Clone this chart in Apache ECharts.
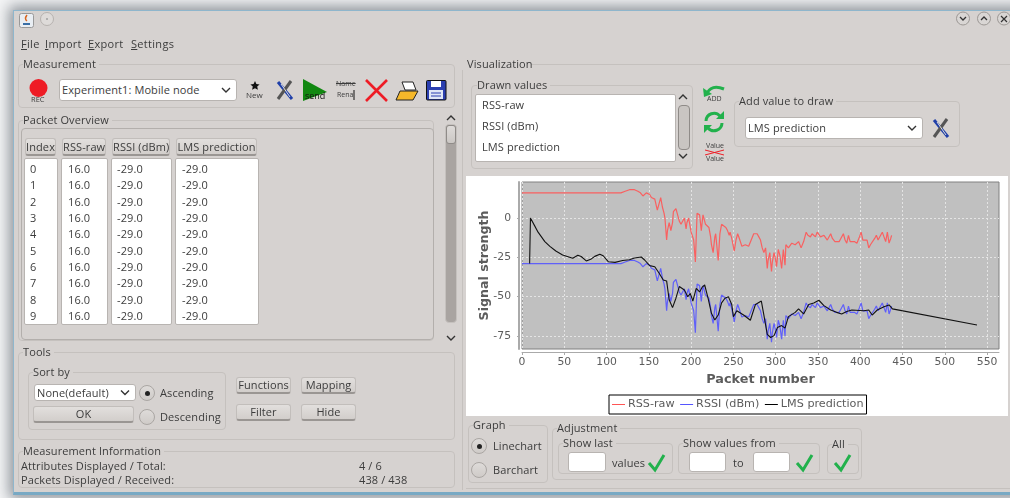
<!DOCTYPE html>
<html><head><meta charset="utf-8">
<style>
html,body{margin:0;padding:0;width:1010px;height:498px;overflow:hidden;background:#f4f5f6;font-family:"Open Sans","Noto Sans",sans-serif;font-size:11px;color:#3c3c3c}
#win{position:absolute;left:13px;top:10px;width:1100px;height:485px;background:#d6d2d0;border:1px solid #8fb6cc;border-bottom:3px solid #78a9c4;box-shadow:0 0 13px 4px rgba(60,70,80,.55);box-sizing:border-box}
#ui{position:absolute;left:0;top:0;width:1010px;height:498px;filter:blur(.35px)}
.t{position:absolute;white-space:nowrap;line-height:14px;height:14px;letter-spacing:.1px}
.grp{position:absolute;border:1px solid #c5c1be;border-radius:4px;box-sizing:border-box;background:#d6d2d0}
.btn{position:absolute;white-space:nowrap;border:1px solid #c2bebb;border-bottom:2px solid #9a9693;border-radius:3px;box-sizing:border-box;background:linear-gradient(#e2dfdd,#d2cecb);text-align:center;letter-spacing:.1px}
.white{position:absolute;background:#fff;border:1px solid #b8b4b1;border-radius:3px;box-sizing:border-box}
.radio{position:absolute;width:16px;height:16px;border-radius:50%;border:1px solid #aaa6a3;box-sizing:border-box;background:linear-gradient(#dedbd9,#cfcbc8)}
.radio.on::after{content:"";position:absolute;left:4.5px;top:4.5px;width:5px;height:5px;border-radius:50%;background:#222}
svg{position:absolute;overflow:visible}
#chart{position:absolute;left:466px;top:176px;width:542px;height:240px;background:#fff;filter:blur(.35px)}
</style>
<script src="https://cdn.jsdelivr.net/npm/echarts@6/dist/echarts.min.js"></script>
</head><body>
<div id="win"></div>
<div id="ui"></div>
<div id="chart"></div>
<script>
const seriesNames = ["RSS-raw", "RSSI (dBm)", "LMS prediction"];
const xTicks = [0,50,100,150,200,250,300,350,400,450,500,550];
const yTicks = [-75,-50,-25,0];

const rawPackets = [
0,10,21,22,23,50,80,82,84,86,88,92,94,96,100,113,115,117,119,122,124,127,133,135,137,140,143,145,147,149,151,153,155,157,
160,162,164,166,168,169,171,172,174,176,178,179,181,182,184,186,188,190,192,194,195,197,199,200,202,203,205,207,210,212,214,215,217,219,
221,223,224,226,228,229,231,232,234,236,238,241,243,245,246,248,251,253,255,257,260,264,268,271,274,278,280,282,284,286,288,
290,291,293,295,296,298,300,301,303,305,307,309,311,312,315,317,319,321,323,325,327,330,333,336,338,341,343,345,347,349,
351,353,355,357,359,361,363,365,367,370,372,375,377,380,382,384,386,388,390,393,396,399,401,403,405,408,410,412,414,417,419,
421,423,426,428,430,432,434,436,437];
const rssRaw = [
16,16,16,15,16,16,16,17,16,17,16,16,17,16,16,16,15,16,17,17,16,18,18,17,17,16,14,15,16,15,15,13,14,12,
5,6,13,7,3,0,-14,-8,-3,-8,-3,4,3,6,2,-2,-4,-5,0,-7,-3,0,-6,-9,-10,-14,-28,3,2,-8,2,1,-4,-4,
-6,-12,-17,-22,-12,-10,-10,-27,-10,-4,-5,-6,-8,-11,-9,-13,-21,-14,-10,-13,-18,-17,-18,-14,-10,-10,-12,-14,-19,-22,-19,
-32,-27,-22,-34,-28,-22,-27,-31,-20,-24,-32,-20,-30,-17,-19,-18,-16,-17,-17,-16,-15,-19,-15,-9,-11,-12,-10,-9,-12,-9,
-9,-12,-13,-11,-10,-14,-14,-10,-13,-15,-14,-15,-13,-10,-14,-16,-11,-15,-16,-15,-16,-12,-9,-14,-15,-14,-19,-17,-16,-13,-11,
-14,-15,-9,-12,-15,-9,-16,-13,-11];
const rssi = [
-29,-29,-29,-30,-29,-29,-29,-28,-29,-28,-29,-29,-28,-29,-29,-29,-30,-29,-28,-28,-29,-27,-27,-28,-28,-29,-31,-30,-29,-30,-30,-32,-31,-33,
-40,-39,-32,-38,-42,-45,-59,-53,-48,-53,-48,-41,-42,-39,-43,-47,-49,-50,-45,-52,-48,-45,-51,-54,-55,-59,-73,-42,-43,-53,-43,-44,-49,-49,
-51,-57,-62,-67,-57,-55,-55,-72,-55,-49,-50,-51,-53,-56,-54,-58,-66,-59,-55,-58,-63,-62,-63,-59,-55,-55,-57,-59,-64,-67,-64,
-77,-72,-67,-79,-73,-67,-72,-76,-65,-69,-77,-65,-75,-62,-64,-63,-61,-62,-62,-61,-60,-64,-60,-54,-56,-57,-55,-54,-57,-54,
-54,-57,-58,-56,-55,-59,-59,-55,-58,-60,-59,-60,-58,-55,-59,-61,-56,-60,-61,-60,-61,-57,-54,-59,-60,-59,-64,-62,-61,-58,-56,
-59,-60,-54,-57,-60,-54,-61,-58,-56];
const lmsPackets = [
9,10,15,19,27,33,40,48,60,66,70,76,82,86,92,96,102,110,119,127,133,141,145,151,157,162,167,171,174,178,182,186,192,196,199,202,206,210,213,216,220,224,228,232,236,240,244,248,250,254,262,270,276,283,286,290,294,298,302,307,311,315,323,327,333,339,345,351,357,365,372,378,384,390,404,410,414,420,428,434,438,538];
const lmsPrediction = [
-29,0,-5,-9,-15,-18,-21,-23.5,-25.6,-23.7,-24.5,-27.3,-26,-24.4,-23,-24,-27.8,-28.2,-27,-26.5,-25.4,-24.8,-26.7,-30.3,-31,-35,-39.4,-40,-52,-57,-51,-43.6,-45.8,-50,-48,-52.8,-44.7,-47,-44,-42.6,-51,-60.6,-64.8,-61.7,-54,-51,-50,-55,-62.7,-59,-61.7,-65,-55,-52.8,-61.7,-74,-76,-74.8,-69.7,-68.4,-70,-62.7,-60,-57.8,-61,-55,-54,-52.3,-55.7,-58.5,-60,-61,-59.5,-58.5,-59,-58.5,-61.7,-58.5,-56.4,-55.3,-57.8,-68];

const tableHeaders = ["Index","RSS-raw","RSSI (dBm)","LMS prediction"];
const tableIndex = [0,1,2,3,4,5,6,7,8,9];
const tableRaw = ["16.0","16.0","16.0","16.0","16.0","16.0","16.0","16.0","16.0","16.0"];
const tableRssi = ["-29.0","-29.0","-29.0","-29.0","-29.0","-29.0","-29.0","-29.0","-29.0","-29.0"];
const tableLms = ["-29.0","-29.0","-29.0","-29.0","-29.0","-29.0","-29.0","-29.0","-29.0","-29.0"];

/* ---------- application chrome ---------- */
const ui = document.getElementById('ui');
function el(cls,x,y,w,h,html,extra){const d=document.createElement('div');d.className=cls;d.style.cssText=`left:${x}px;top:${y}px;`+(w!=null?`width:${w}px;`:'')+(h!=null?`height:${h}px;`:'')+(extra||'');if(html!=null)d.innerHTML=html;ui.appendChild(d);return d;}
function text(s,x,cy,extra){return el('t',x,cy-7,null,null,s,extra);}
function grp(label,x,y,x2,y2,lx){el('grp',x,y,x2-x,y2-y);const t=text(label,lx!=null?lx:x+5,y,'background:#d6d2d0;padding-right:3px;');return t;}
function btn(s,x,y,x2,y2){el('btn',x,y,x2-x,y2-y,s,`line-height:${y2-y-3}px;`);}
function combo(s,x,y,x2,y2){el('white',x,y,x2-x,y2-y);text(s,x+3,(y+y2)/2);chev(x2-11,(y+y2)/2,false);}
function chev(cx,cy,up){svg(`<path d="M${cx-4} ${cy+(up?2:-2)} L${cx} ${cy+(up?-2:2)} L${cx+4} ${cy+(up?2:-2)}" fill="none" stroke="#333" stroke-width="1.4"/>`);}
function svg(inner){const s=document.createElementNS('http://www.w3.org/2000/svg','svg');s.setAttribute('width','1010');s.setAttribute('height','498');s.style.cssText='left:0;top:0;';s.innerHTML=inner;ui.appendChild(s);}
function radio(cx,cy,on){el('radio'+(on?' on':''),cx-8,cy-8);}
function check(x,y){svg(`<path d="M${x} ${y+8} L${x+6} ${y+15} L${x+15} ${y}" fill="none" stroke="#22b14c" stroke-width="3"/>`);}
function wrench(x,y){svg(`<path d="M${x+3} ${y+2} L${x+17} ${y+19}" stroke="#1f3fa8" stroke-width="3"/><path d="M${x+16} ${y+1} L${x+3} ${y+19}" stroke="#555" stroke-width="3"/><path d="M${x+6} ${y+4} L${x+15} ${y+17}" stroke="#ddd" stroke-width="1"/>`);}

// title bar
svg(`<rect x="19.5" y="13.5" width="14" height="14" rx="2" fill="#e9eef3" stroke="#999"/><path d="M23 24 h7" stroke="#3a6ea5" stroke-width="2"/><path d="M27 15 q-3 4 0 6" fill="none" stroke="#d9661f" stroke-width="1.5"/>
<circle cx="47" cy="19" r="6.5" fill="#dedbd9" stroke="#b5b1ae"/><circle cx="47" cy="19" r=".8" fill="#777"/>
<circle cx="963" cy="18.5" r="6.5" fill="#d9d6d4" stroke="#9b9794"/><path d="M960 17 l3 3 l3 -3" fill="none" stroke="#333" stroke-width="1.3"/>
<circle cx="984" cy="18.5" r="6.5" fill="#d9d6d4" stroke="#9b9794"/><path d="M981 20 l3 -3 l3 3" fill="none" stroke="#333" stroke-width="1.3"/>
<circle cx="1004" cy="18.5" r="6.5" fill="#d9d6d4" stroke="#9b9794"/><path d="M1001 16 l6 6 M1007 16 l-6 6" stroke="#333" stroke-width="1.2"/>`);
// menu
[["File",21],["Import",45],["Export",88],["Settings",131]].forEach(m=>text(`<u>${m[0][0]}</u>${m[0].slice(1)}`,m[1],44,"letter-spacing:.3px;"));

// measurement
grp("Measurement",18,64,455,108);
svg(`<circle cx="38.5" cy="88" r="9" fill="#ee1c25"/>`);
text("REC",31,99,"font-size:7.5px;letter-spacing:0;");
combo("Experiment1: Mobile node",59,79,237,101);
svg(`<path d="M255 81 l1.4 3 l3.2 .4 l-2.4 2.2 l.7 3.2 l-2.9 -1.6 l-2.9 1.6 l.7 -3.2 l-2.4 -2.2 l3.2 -.4 z" fill="#111"/>`);
text("New",246,95,"font-size:8px;letter-spacing:0;");
wrench(275,80);
svg(`<path d="M303 79 L327 92 L303 101 Z" fill="#118811"/>`);
text("send",305,96,"font-size:9px;letter-spacing:0;color:#111;");
text("Name",336,84,"font-size:7px;letter-spacing:0;text-decoration:line-through;");
text("Rena",337,95,"font-size:7px;letter-spacing:0;");
svg(`<path d="M354 90 v10" stroke="#111" stroke-width="1"/>
<path d="M366 80 L387 101 M387 80 L366 101" stroke="#ee1c25" stroke-width="2.6"/>
<path d="M402 82 h11 l3 8 h-11 z" fill="#fff" stroke="#222"/><path d="M396 100 l4 -9 h18 l-5 9 z" fill="#f5b82a" stroke="#222"/>
<rect x="426.5" y="80.5" width="19.5" height="19.5" rx="1" fill="#2b3fb0" stroke="#111"/><rect x="431" y="81" width="10" height="6" fill="#fff"/><rect x="429" y="90" width="14" height="9" fill="#dfe6f5"/><path d="M431 93 h10 M431 96 h10" stroke="#2b3fb0"/>`);

// packet overview
grp("Packet Overview",18,120,434,341);
el('grp',21,128,413,212,null,'border-color:#b3afac;');
const hdrs=[[25,56],[62,106],[112,170],[176,257]];
tableHeaders.forEach((h,i)=>btn(h,hdrs[i][0],138,hdrs[i][1],156));
const cols=[[24,58,30,tableIndex],[61,108,68,tableRaw],[111,172,117,tableRssi],[175,259,182,tableLms]];
cols.forEach(c=>{el('white',c[0],158,c[1]-c[0],167,null,'border-radius:2px;');c[3].forEach((v,i)=>text(v,c[2],169+i*16.33));});
chev(451,118,true);chev(451,338,false);
el('',445,124,12,199,null,'position:absolute;background:#a9a4a1;border-radius:4px;border:1px solid #c5c1be;box-sizing:border-box;');
el('',446,125,10,19,null,'position:absolute;background:linear-gradient(#dedbd9,#cbc7c4);border-radius:3px;border:1px solid #8f8b88;box-sizing:border-box;');

// tools
grp("Tools",18,352,455,440);
grp("Sort by",28,372,226,430);
combo("None(default)",34,384,136,401);
btn("OK",33,406,134,423);
radio(147,393,true);text("Ascending",160,393);
radio(147,417,false);text("Descending",160,417);
btn("Functions",236,377,291,394);btn("Mapping",301,377,356,394);
btn("Filter",236,404,291,421);btn("Hide",301,404,356,421);

// info
grp("Measurement Information",18,451,455,488);
text("Attributes Displayed / Total:",21,466);text("4 / 6",359,466);
text("Packets Displayed / Received:",21,480);text("438 / 438",359,480);

// visualization
svg(`<path d="M531 64.5 H1010" stroke="#c5c1be"/><path d="M462.5 70 V490" stroke="#c5c1be"/>`);
text("Visualization",467,64);
grp("Drawn values",471,85,693,169,477);
el('white',475,94,201,68,null,'border-radius:2px;');
text("RSS-raw",482,105);text("RSSI (dBm)",482,126);text("LMS prediction",482,147);
chev(683,97,true);chev(683,156,false);
el('',678,105,12,45,null,'position:absolute;background:#c9c5c2;border-radius:4px;border:1px solid #8f8b88;box-sizing:border-box;');
svg(`<path d="M707 93 q5 -9 17 -4" fill="none" stroke="#22b14c" stroke-width="3"/><path d="M703 88 l1 9 l8 -3 z" fill="#22b14c"/>
<path d="M706 121 a8 8 0 0 1 14 -5" fill="none" stroke="#22b14c" stroke-width="3"/><path d="M722 123 a8 8 0 0 1 -14 5" fill="none" stroke="#22b14c" stroke-width="3"/><path d="M716 119 h8 v-8 z M712 125 h-8 v8 z" fill="#22b14c"/>
<path d="M705 150 L724 155 M705 155 L724 150" stroke="#ee1c25"/>`);
text("ADD",707,99,"font-size:7px;letter-spacing:0;");
text("Value",706,146,"font-size:7px;letter-spacing:0;");text("Value",706,159,"font-size:7px;letter-spacing:0;");
grp("Add value to draw",734,101,960,147);
combo("LMS prediction",745,117,923,139);
wrench(931,118);

// bottom controls
grp("Graph",468,425,548,483);
radio(479,446,true);text("Linechart",493,446);
radio(479,470,false);text("Barchart",493,470);
grp("Adjustment",552,428,862,480);
grp("Show last",558,443,673,474);
el('white',568,452,38,20);text("values",612,463);check(649,455);
grp("Show values from",678,443,820,474);
el('white',689,452,37,20);text("to",733,463);el('white',753,452,37,20);check(797,455);
grp("All",827,444,859,474);check(835,455);
svg(`<path d="M466 488.5 H1010" stroke="#c5c1be"/>`);

/* ---------- chart ---------- */
const zip=(xs,ys)=>xs.map((x,i)=>[x,ys[i]]);
const labelGrey='#5c5c5c';
const chart=echarts.init(document.getElementById('chart'),null,{renderer:'canvas'});
chart.setOption({
  animation:false,
  backgroundColor:'#fff',
  textStyle:{fontFamily:'"DejaVu Sans"'},
  grid:{left:56,top:6,right:9,bottom:67,show:true,backgroundColor:'#c0c0c0',borderColor:'#808080',borderWidth:1,outerBoundsMode:'none'},
  legend:{
    data:seriesNames,left:143,top:219,orient:'horizontal',
    padding:[4,3,4,3],itemGap:5.5,itemWidth:13,itemHeight:1,
    borderColor:'#000',borderWidth:1,backgroundColor:'#fff',
    textStyle:{fontSize:11.2,color:labelGrey,padding:[0,0,0,-2]},
    icon:'rect'
  },
  xAxis:{
    type:'value',min:0,max:564,offset:3,
    name:'Packet number',nameLocation:'middle',nameGap:21,nameMoveOverlap:false,
    nameTextStyle:{fontWeight:'bold',fontSize:12.8,color:labelGrey},
    axisLine:{show:true,onZero:false,lineStyle:{color:'#aaa',width:1}},
    axisTick:{show:true,length:3,lineStyle:{color:'#aaa'},customValues:xTicks},
    axisLabel:{color:labelGrey,fontSize:10.8,margin:5,customValues:xTicks,formatter:v=>String(v)},
    splitLine:{show:true,lineStyle:{color:'#e4e4e4',type:[2,2],width:1}}
  },
  yAxis:{
    type:'value',min:-83.3,max:22.9,offset:3,
    name:'Signal strength',nameLocation:'middle',nameGap:28,nameMoveOverlap:false,
    nameTextStyle:{fontWeight:'bold',fontSize:12.6,color:labelGrey},
    axisLine:{show:true,onZero:false,lineStyle:{color:'#aaa',width:2}},
    axisTick:{show:true,length:2,lineStyle:{color:'#aaa'},customValues:yTicks},
    axisLabel:{color:labelGrey,fontSize:10.8,margin:8,customValues:yTicks,formatter:v=>String(v)},
    splitLine:{show:true,lineStyle:{color:'#e4e4e4',type:[2,2],width:1}}
  },
  series:[
    {name:seriesNames[0],type:'line',data:zip(rawPackets,rssRaw),showSymbol:false,color:'#ff5555',lineStyle:{width:1.2,color:'#ff5555',opacity:.9}},
    {name:seriesNames[1],type:'line',data:zip(rawPackets,rssi),showSymbol:false,color:'#5555ff',lineStyle:{width:1.2,color:'#5555ff',opacity:.9}},
    {name:seriesNames[2],type:'line',data:zip(lmsPackets,lmsPrediction),showSymbol:false,color:'#000',lineStyle:{width:1.1,color:'#111'}}
  ]
});
</script>
</body></html>
